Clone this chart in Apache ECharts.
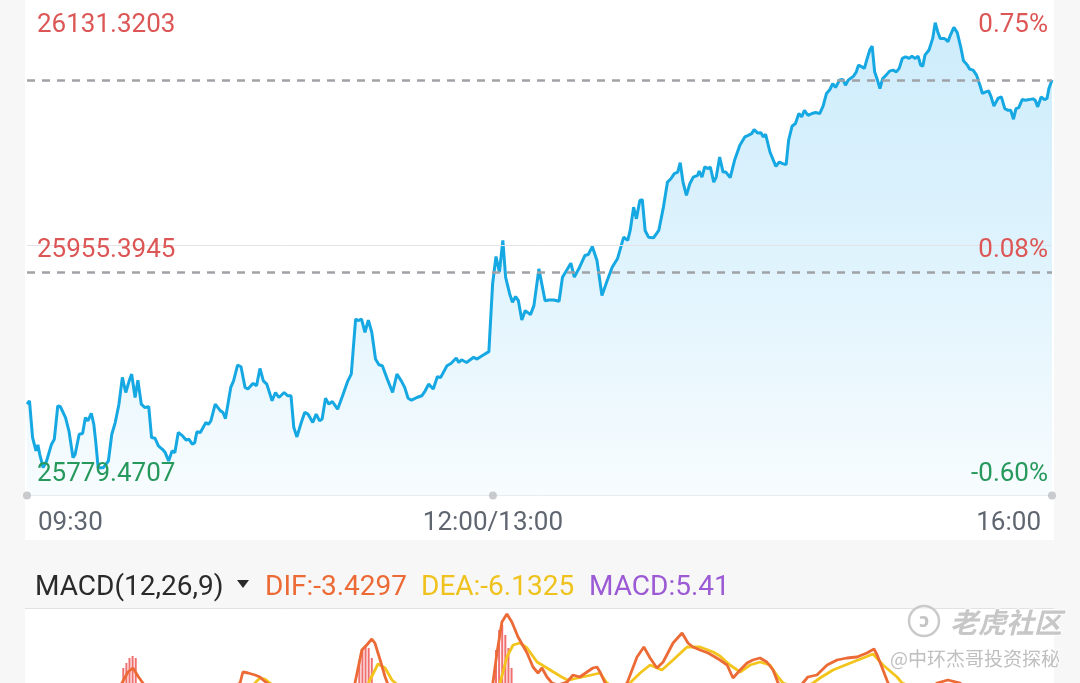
<!DOCTYPE html>
<html><head><meta charset="utf-8">
<script src="https://cdn.jsdelivr.net/npm/echarts@6/dist/echarts.min.js"></script>
<style>html,body{margin:0;padding:0;background:#f7f7f7;}#c{width:1080px;height:683px;}</style>
</head><body><div id="c"></div>
<script>
// ---- intraday price (minutes since 09:30, lunch break removed) ----
const minutes = [0,0.8,1.8,2.9,3.5,4.1,5.2,6.3,7.9,8.8,9.9,10.7,12.4,13.5,14.8,15.5,16.8,17.9,18.8,19.6,20.7,21.5,22.1,22.9,24.6,26.2,27.3,28.4,29.6,30.7,31.8,32.9,33.7,34.8,35.7,36.8,37.9,39.2,40.1,41.2,42.3,43.6,44.5,45.6,46.7,47.6,48.7,50.1,51.2,52.1,53.2,54.0,54.7,55.8,57.6,58.4,59.2,60.6,62.3,63.1,63.9,65.6,66.5,67.8,68.9,70.2,71.1,72.8,73.9,75.0,76.1,77.2,78.9,80.0,81.1,82.8,83.9,85.0,85.9,86.9,88.3,89.4,90.5,92.0,93.1,94.2,95.0,96.1,97.2,98.3,100.0,101.6,103.3,104.4,105.0,105.8,106.6,107.7,108.8,109.9,111.0,112.2,113.3,114.4,116.0,117.7,119.1,120.5,121.6,122.7,123.8,125.5,127.1,128.2,129.3,130.8,132.1,133.2,135.2,136.5,138.2,139.0,139.9,141.5,143.8,144.9,146.5,148.7,149.3,149.9,151.0,152.1,153.2,154.1,155.4,156.3,157.3,158.2,159.3,160.4,162.1,163.2,164.8,166.8,168.0,169.6,171.3,172.4,175.1,176.2,177.9,179.6,180.7,182.0,183.5,185.1,186.8,188.4,190.1,192.1,193.4,194.2,195.3,196.2,197.3,198.1,199.0,200.1,201.7,203.4,204.9,206.2,207.3,208.4,209.5,210.3,211.2,212.3,213.4,214.5,215.9,216.4,217.3,218.2,219.3,220.0,221.1,221.9,223.0,224.1,225.0,226.4,227.8,229.5,231.1,232.2,233.3,234.1,235.2,236.3,237.0,237.8,239.2,241.1,242.2,243.3,244.4,245.2,246.3,247.4,248.5,249.4,250.3,251.4,252.7,253.9,255.2,256.3,257.4,258.5,259.4,260.3,261.6,262.7,263.5,264.4,266.1,267.0,267.7,268.8,269.6,270.5,271.4,272.1,272.9,273.8,274.6,275.5,276.6,277.7,278.8,279.9,280.8,281.8,282.9,284.0,284.9,286.0,286.9,287.7,288.4,289.1,290.4,291.6,292.4,293.2,294.0,295.1,295.8,296.5,297.3,298.4,299.5,300.6,301.5,302.6,303.5,304.6,305.7,306.8,307.6,308.7,309.6,310.4,311.3,312.6,313.7,314.8,315.9,316.7,317.6,318.4,319.3,320.4,321.5,322.6,323.9,324.6,325.4,326.5,327.6,328.4,329.0,330];
const prices = [25843.6,25846.0,25820.2,25810.8,25815.0,25808.4,25799.0,25803.7,25815.5,25819.0,25842.4,25842.0,25834.2,25824.9,25806.1,25808.4,25822.5,25823.0,25834.2,25831.9,25837.1,25829.6,25817.8,25799.0,25799.0,25803.7,25822.5,25830.7,25843.6,25862.4,25851.8,25860.0,25864.7,25848.3,25860.5,25843.6,25841.3,25841.8,25820.2,25819.7,25814.3,25811.9,25809.6,25803.7,25810.8,25809.6,25823.7,25821.3,25818.5,25819.0,25815.5,25816.6,25824.2,25823.7,25830.7,25829.5,25831.9,25843.6,25838.9,25837.8,25833.5,25855.4,25860.0,25871.1,25869.9,25855.4,25854.2,25858.2,25856.5,25868.7,25860.0,25857.7,25846.0,25851.8,25848.3,25851.8,25849.5,25849.5,25827.2,25820.6,25830.7,25837.8,25836.6,25830.7,25836.6,25831.9,25833.1,25847.8,25843.6,25845.5,25840.1,25849.5,25860.0,25864.7,25865.9,25903.4,25902.3,25903.4,25894.1,25902.7,25894.1,25875.3,25871.3,25870.6,25861.2,25851.8,25864.7,25860.0,25855.4,25847.8,25846.4,25848.3,25849.5,25853.0,25857.7,25854.2,25862.9,25862.4,25870.6,25872.2,25876.0,25872.9,25874.8,25872.9,25876.5,25875.3,25877.6,25880.5,25881.2,25928.1,25947.3,25936.3,25958.6,25932.7,25921.0,25915.2,25919.2,25916.3,25902.7,25909.3,25906.5,25912.8,25938.6,25916.3,25916.8,25916.8,25915.9,25932.8,25942.6,25932.8,25939.8,25948.0,25948.7,25954.3,25944.5,25919.9,25930.4,25939.8,25945.7,25960.9,25958.6,25965.6,25982.0,25973.8,25986.7,25987.2,25965.6,25960.9,25960.4,25965.6,25982.0,25999.6,26001.9,26005.5,26006.6,26013.2,25999.6,25990.2,25998.4,26003.1,26004.3,26007.3,26003.1,26010.2,26009.0,26010.2,25999.6,26003.1,26017.2,26006.6,26006.6,26002.7,26014.9,26025.4,26031.3,26032.4,26033.6,26036.4,26034.1,26034.3,26031.3,26033.1,26020.7,26010.6,26013.7,26012.5,26011.8,26028.9,26038.8,26040.7,26047.7,26045.4,26050.0,26046.5,26047.7,26048.4,26047.7,26052.9,26061.8,26064.6,26068.8,26066.0,26071.2,26071.6,26067.6,26071.2,26074.0,26077.0,26081.7,26080.5,26079.4,26086.4,26092.7,26095.1,26077.0,26071.2,26065.3,26072.3,26074.7,26077.5,26078.2,26077.0,26079.4,26086.4,26087.6,26086.4,26088.0,26086.4,26088.0,26081.7,26081.0,26088.7,26092.3,26100.5,26111.5,26105.2,26100.5,26100.5,26099.8,26098.1,26102.8,26108.2,26104.5,26094.6,26084.8,26082.2,26078.9,26078.2,26074.7,26067.6,26061.8,26062.9,26063.6,26059.4,26052.9,26058.3,26059.4,26051.2,26050.0,26050.0,26043.7,26051.2,26051.9,26057.5,26057.1,26057.5,26058.0,26057.1,26052.4,26059.4,26057.5,26058.3,26065.3,26071.2];
const prevClose = 25936.0;
const yMin = 25779.4707, yMid = 25955.3945, yMax = 26131.3203;
const axisTop = 26127.45;   // value at the top edge of the visible plot (labelled max sits just above it)
const yTickValues = [yMax, yMid, yMin];
const yTickLabels = ['26131.3203', '25955.3945', '25779.4707'];
const pctLabels = ['0.75%', '0.08%', '-0.60%'];
const xTickMinutes = [0, 150, 330];
const xTickLabels = ['09:30', '12:00/13:00', '16:00'];

// ---- MACD(12,26,9) ----
const difMinutes = [0,26.7,30.6,32.5,34.1,35.7,37.3,42.8,55.7,68.6,69.5,71.2,73.4,75,76,77.3,87.9,102.4,105.6,107.8,109.4,111,112,113.7,115.3,116.9,133,147.5,150,151.3,152.9,154.5,156.1,158.1,161,162.9,164.5,165.8,167.4,169,171,173.9,175.8,178,180.3,182.2,183.5,184.5,186.1,189.3,193.2,196.4,198.6,200.6,202.8,204.8,208,210.9,212.8,214.4,216.7,219.3,221.5,223.1,225.4,227.3,229.6,231.8,233.7,236,238.2,240.2,241.8,245.7,249.8,251.4,254.3,257.6,260.8,264,267.2,270.4,272.7,273.7,275.6,277.2,284.3,293,296.5,300.4,313.3,330];
const difValues = [0,8,11.5,14.25,15.25,13.25,11.5,5,6,11.5,14.25,14,13.5,13,12.25,11.5,4,6,11.5,19.75,21,22.5,21.5,17.25,13,9.75,8,9,11.5,19,26.75,28.75,26.75,23,19,15.5,14,15.25,13,11.5,11,11.75,13.5,13,14.25,15.25,15.5,14.25,11.5,9,11.5,18,20.5,17.75,15.25,16.75,21.5,24,21.5,20.5,19.75,19,18,17.25,16,12.75,14.75,16.5,17.25,17.75,16.75,14.75,11.5,9,11.5,13,13.5,16,17.25,17.75,18,19,20,18.5,14.75,11.5,6,11.5,12.25,11.5,0,-3.4297];
const deaMinutes = [0,30,36.4,46,70.2,75,76.6,78.2,87.9,107.2,110.4,113,115.3,117.5,120.1,136.2,149,152.3,154.5,156.5,158.7,161,164.2,167.4,171.6,173.9,175.8,180.3,184.5,186.7,190.3,194.1,197.4,200.6,204.4,208,212.5,216.7,220.9,223.1,226.3,229.6,232.8,236,239.2,241.8,243.4,248.9,253.1,255.3,259.5,265.9,272.4,275.6,280.1,281.7,294,313,330];
const deaValues = [0,5,8,6,9,12.75,12.5,11.5,6,7,12.25,16.25,15.25,12.25,10.5,7.5,8.5,11.5,18,21,21.5,20.25,16.75,15.25,13.25,12.25,12.5,13.25,14,11.5,10,11.5,14,16,14.75,17.25,20.5,20.5,19.25,18.25,16,14.25,16,16.75,16,13,11.5,10,11.5,12.75,14.75,16.75,18.75,16,13,11.5,8,-2,-6.1325];
const barMinutes = [31,32,33,34,35,107,108,109,110,111,151,152,153,154,155,156,330];
const barValues = [15.25,16.5,17.75,18.25,17.75,17.25,19.75,21,20.25,17.75,19.75,24.75,26,23.5,20.25,15.25,5.41];
const macdLegend = ['MACD(12,26,9)', 'DIF:-3.4297', 'DEA:-6.1325', 'MACD:5.41'];
const macdVisibleMin = 11.5, macdVisibleMax = 30;

const FONT = 'Roboto, "Noto Sans", sans-serif';
const zip = (a, b) => a.map((x, i) => [x, b[i]]);
const dashStyle = {color: '#a0a2a6', width: 2.5, type: [8, 7]};

const chart = echarts.init(document.getElementById('c'));
const option = {
  animation: false,
  backgroundColor: '#f7f7f7',
  grid: [
    {left: 27, right: 28, top: 0, height: 495.5},
    {left: 27, right: 28, top: 609, bottom: 0}
  ],
  xAxis: [
    {gridIndex: 0, type: 'value', min: 0, max: 330, axisLine: {show: true, lineStyle: {color: '#e3e6ea', width: 1}},
     axisTick: {show: false}, axisLabel: {show: false}, splitLine: {show: false}},
    {gridIndex: 1, type: 'value', min: 0, max: 330, show: false}
  ],
  yAxis: [
    {gridIndex: 0, type: 'value', min: yMin, max: axisTop, show: false, splitLine: {show: false}},
    {gridIndex: 1, type: 'value', min: macdVisibleMin, max: macdVisibleMax, show: false, splitLine: {show: false}}
  ],
  series: [
    {
      type: 'line', xAxisIndex: 0, yAxisIndex: 0, data: zip(minutes, prices), showSymbol: false,
      lineStyle: {color: '#16a8e2', width: 3}, z: 3,
      areaStyle: {origin: 'start', color: new echarts.graphic.LinearGradient(0, 0, 0, 1, [
        {offset: 0, color: '#b8e4fa'}, {offset: 0.5, color: '#d1eefc'}, {offset: 1, color: '#f4fbfe'}])},
      markLine: {
        symbol: 'none', silent: true, label: {show: false}, lineStyle: dashStyle,
        data: [
          {yAxis: yMid, lineStyle: {color: '#e2e4e7', width: 1, type: 'solid'}},
          {yAxis: prevClose, lineStyle: dashStyle},
          {yAxis: prices[prices.length - 1], lineStyle: dashStyle}
        ]
      }
    },
    {
      type: 'scatter', xAxisIndex: 0, yAxisIndex: 0, data: xTickMinutes.map(m => [m, yMin]),
      symbolSize: 8, itemStyle: {color: '#bcbec2'}, clip: false, z: 5, silent: true
    },
    {
      type: 'bar', xAxisIndex: 1, yAxisIndex: 1, data: zip(barMinutes, barValues), barWidth: 2,
      itemStyle: {color: '#f06f6f'}, z: 2
    },
    {
      type: 'line', xAxisIndex: 1, yAxisIndex: 1, data: zip(deaMinutes, deaValues), showSymbol: false,
      lineStyle: {color: '#f3c51c', width: 2.8}, z: 3
    },
    {
      type: 'line', xAxisIndex: 1, yAxisIndex: 1, data: zip(difMinutes, difValues), showSymbol: false,
      lineStyle: {color: '#ec6a36', width: 2.8}, z: 4
    }
  ]
};
chart.setOption(option);

const px = (m, v) => chart.convertToPixel({gridIndex: 0}, [m, v]);
const g = [
  {type: 'rect', shape: {x: 25, y: 0, width: 1029, height: 540}, style: {fill: '#ffffff'}, z: -10, silent: true},
  {type: 'rect', shape: {x: 25, y: 609, width: 1029, height: 80}, style: {fill: '#ffffff'}, z: -10, silent: true},
  {type: 'line', shape: {x1: 25, y1: 608.5, x2: 1054, y2: 608.5}, style: {stroke: '#e2e2e2', lineWidth: 1}, z: -9, silent: true}
];
const yOff = [31.5, 5.5, -21];
const yCol = ['#dd5656', '#dd5656', '#27995c'];
yTickValues.forEach((v, i) => {
  const y = px(0, v)[1] + yOff[i];
  g.push({type: 'text', x: 37, y: y, z: 100, style: {text: yTickLabels[i], fill: yCol[i], font: '26px ' + FONT, textAlign: 'left', textVerticalAlign: 'middle'}});
  g.push({type: 'text', x: 1048, y: y, z: 100, style: {text: pctLabels[i], fill: yCol[i], font: '26px ' + FONT, textAlign: 'right', textVerticalAlign: 'middle'}});
});
const xOff = [11, 0, -11];
const xAlign = ['left', 'center', 'right'];
xTickMinutes.forEach((m, i) => {
  const p = px(m, yMin);
  g.push({type: 'text', x: p[0] + xOff[i], y: p[1] + 28, z: 100, style: {text: xTickLabels[i], fill: '#5f6670', font: '26px ' + FONT, textAlign: xAlign[i], textVerticalAlign: 'middle'}});
});
// MACD legend
const legX = [35, 265, 421, 589];
const legCol = ['#2a2a2a', '#ec6a36', '#efc21e', '#9c5bd4'];
macdLegend.forEach((t, i) => {
  g.push({type: 'text', x: legX[i], y: 588, z: 100, style: {text: t, fill: legCol[i], font: '28px ' + FONT, textAlign: 'left', textVerticalAlign: 'middle'}});
});
g.push({type: 'polygon', shape: {points: [[237, 580], [249, 580], [243, 588]]}, style: {fill: '#2a2a2a'}, z: 100});
// watermark
g.push({type: 'circle', shape: {cx: 924, cy: 621, r: 15}, style: {fill: 'rgba(255,255,255,0.5)', stroke: '#cacaca', lineWidth: 2.5}, z: 100});
g.push({type: 'text', x: 924, y: 622, z: 101, style: {text: 'ↄ', fill: '#c4c4c4', font: 'bold 20px ' + FONT, textAlign: 'center', textVerticalAlign: 'middle'}});
g.push({type: 'text', x: 950, y: 622, z: 100, style: {text: '老虎社区', fill: 'rgba(180,180,180,0.75)', stroke: 'rgba(255,255,255,0.8)', lineWidth: 2, font: 'italic bold 28px "Noto Sans CJK SC", sans-serif', textAlign: 'left', textVerticalAlign: 'middle'}});
g.push({type: 'text', x: 1060, y: 659, z: 100, style: {text: '@中环杰哥投资探秘', fill: 'rgba(175,175,175,0.8)', stroke: 'rgba(255,255,255,0.8)', lineWidth: 2, font: '19px "Noto Sans CJK SC", sans-serif', textAlign: 'right', textVerticalAlign: 'middle'}});
chart.setOption({graphic: g});
</script></body></html>
